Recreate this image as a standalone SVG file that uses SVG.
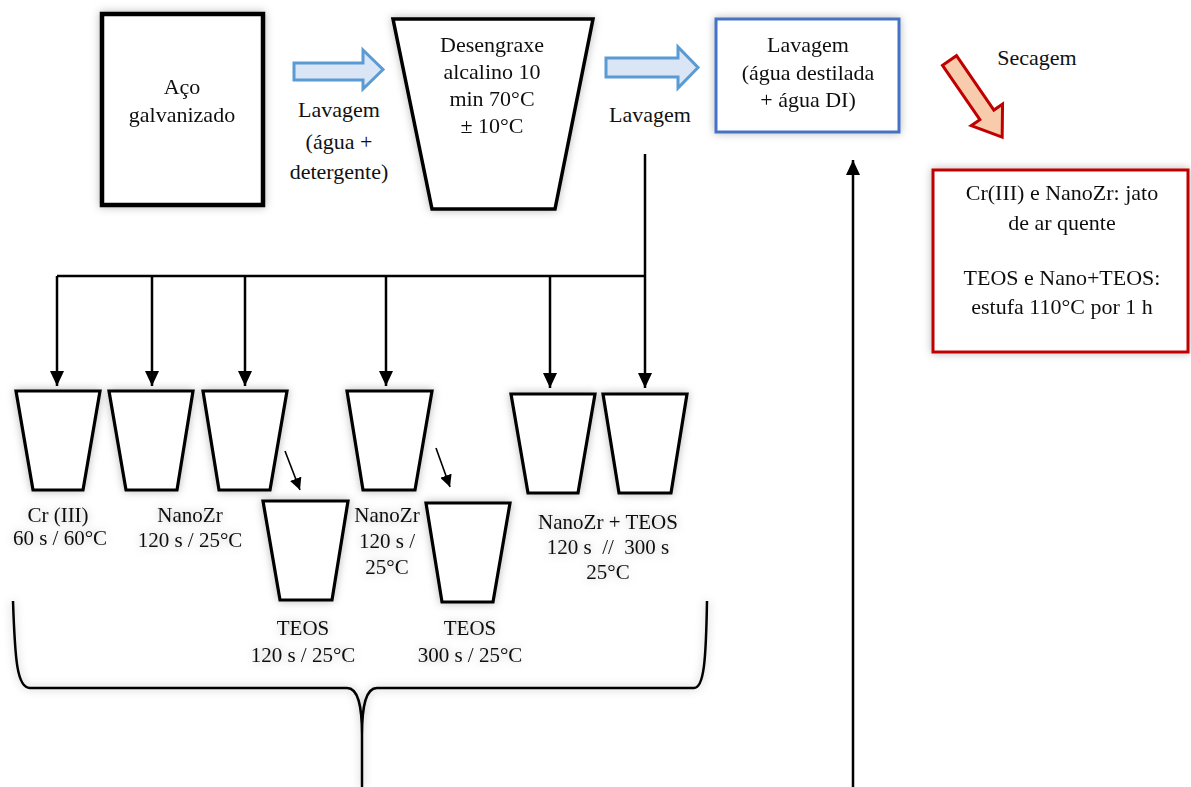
<svg xmlns="http://www.w3.org/2000/svg" width="1191" height="787" viewBox="0 0 1191 787">
<style>
text{font-family:"Liberation Serif","Times New Roman",serif;fill:#111;text-anchor:middle}
.t22{font-size:22px}
.t21{font-size:21px}
.box{fill:#fff;stroke:#000;stroke-width:4.5}
.cup{fill:#fff;stroke:#000;stroke-width:3.2;stroke-linejoin:miter}
.line{fill:none;stroke:#000;stroke-width:2.5}
.thin{fill:none;stroke:#000;stroke-width:1.6}
.barrow{fill:#dae6f5;stroke:#5b9bd5;stroke-width:3}
.rarrow{fill:#f8cbad;stroke:#c00000;stroke-width:3}
.sh{filter:url(#shadow)}
</style>
<defs>
<filter id="shadow" x="-20%" y="-20%" width="140%" height="140%">
<feDropShadow dx="0" dy="0" stdDeviation="4" flood-color="#000" flood-opacity="0.28"/>
</filter>
<marker id="ah" markerUnits="userSpaceOnUse" markerWidth="16" markerHeight="14" refX="15" refY="7" orient="auto">
<path d="M0,0 L15,7 L0,14 z" fill="#000"/>
</marker>
<marker id="ahs" markerUnits="userSpaceOnUse" markerWidth="13" markerHeight="12" refX="12" refY="6" orient="auto">
<path d="M0,0 L12,6 L0,12 z" fill="#000"/>
</marker>
</defs>
<rect width="1191" height="787" fill="#fff"/>

<g id="aco" class="sh">
<rect class="box" x="102" y="14" width="161" height="191"/>
<text class="t22" x="182" y="94">Aço</text>
<text class="t22" x="182" y="122">galvanizado</text>
</g>

<g id="arrow-lavagem1">
<polygon class="barrow" points="294,63 363,63 363,50 383,69.5 363,89 363,80 294,80"/>
<text class="t22" x="339" y="117">Lavagem</text>
<text class="t22" x="339" y="149">(água +</text>
<text class="t22" x="339" y="179">detergente)</text>
</g>

<g id="desengraxe" class="sh">
<polygon class="cup" points="393,19 593,19 555,209 432,209" style="stroke-width:3.5"/>
<text class="t22" x="492" y="52">Desengraxe</text>
<text class="t22" x="492" y="79">alcalino 10</text>
<text class="t22" x="492" y="106">min 70°C</text>
<text class="t22" x="492" y="133">± 10°C</text>
</g>

<g id="arrow-lavagem2">
<polygon class="barrow" points="606,58 678,58 678,47 698,67.5 678,88 678,77 606,77"/>
<text class="t22" x="650" y="122">Lavagem</text>
</g>

<g id="lavagem-box" class="sh">
<rect x="716" y="19" width="183" height="113" fill="#fff" stroke="#4472c4" stroke-width="3"/>
<text class="t22" x="808" y="52">Lavagem</text>
<text class="t22" x="808" y="80">(água destilada</text>
<text class="t22" x="808" y="107">+ água DI)</text>
</g>

<g id="secagem">
<g transform="translate(949.5,60.5) rotate(55.5)">
<polygon class="rarrow" points="0,-8.5 66,-8.5 66,-19 93,0 66,19 66,8.5 0,8.5"/>
</g>
<text class="t22" x="1037" y="65">Secagem</text>
</g>

<g id="secagem-box" class="sh">
<rect x="933" y="170" width="255" height="182" fill="#fff" stroke="#c00000" stroke-width="3"/>
<text class="t22" x="1062" y="200">Cr(III) e NanoZr: jato</text>
<text class="t22" x="1062" y="230">de ar quente</text>
<text class="t22" x="1062" y="285">TEOS e Nano+TEOS:</text>
<text class="t22" x="1062" y="314">estufa 110°C por 1 h</text>
</g>

<g id="cup-cr" class="sh">
<polygon class="cup" points="16,391 100,391 83,490 33,490"/>
<text class="t21" x="58" y="522">Cr (III)</text>
<text class="t21" x="60" y="545">60 s / 60°C</text>
</g>
<g id="cup-nanozr1" class="sh">
<polygon class="cup" points="109,391 193,391 177,490 126,490"/>
<text class="t21" x="190" y="522">NanoZr</text>
<text class="t21" x="190" y="547">120 s / 25°C</text>
</g>
<g id="cup-nanozr2" class="sh">
<polygon class="cup" points="203,391 287,391 270,490 219,490"/>
</g>
<g id="cup-teos1" class="sh">
<polygon class="cup" points="263,501 348,501 332,600 280,600"/>
<text class="t21" x="303" y="635">TEOS</text>
<text class="t21" x="303" y="662">120 s / 25°C</text>
</g>
<g id="cup-nanozr3" class="sh">
<polygon class="cup" points="347,391 432,391 415,490 363,490"/>
<text class="t21" x="387" y="522">NanoZr</text>
<text class="t21" x="387" y="548">120 s /</text>
<text class="t21" x="387" y="574">25°C</text>
</g>
<g id="cup-teos2" class="sh">
<polygon class="cup" points="426,503 510,503 493,602 442,602"/>
<text class="t21" x="470" y="635">TEOS</text>
<text class="t21" x="470" y="662">300 s / 25°C</text>
</g>
<g id="cup-nanoteos1" class="sh">
<polygon class="cup" points="511,394 595,394 578,493 528,493"/>
</g>
<g id="cup-nanoteos2" class="sh">
<polygon class="cup" points="603,394 687,394 671,493 619,493"/>
<text class="t21" x="608" y="529">NanoZr + TEOS</text>
<text class="t21" x="608" y="554" xml:space="preserve">120 s  //  300 s</text>
<text class="t21" x="608" y="579">25°C</text>
</g>

<g id="brace" class="sh">
<path class="line" d="M13,601 C15,660 17,688 30,688 L347,688 C358,688 362,705 362,735 L362,787 M362,735 C362,705 366,688 377,688 L694,688 C704,688 706,660 707,601"/>
</g>

<g id="connectors">
<path class="line" d="M645,154 L645,276"/>
<path class="line" d="M57,276 L645,276"/>
<path class="line" d="M57,276 L57,386" marker-end="url(#ah)"/>
<path class="line" d="M152,276 L152,386" marker-end="url(#ah)"/>
<path class="line" d="M245,276 L245,386" marker-end="url(#ah)"/>
<path class="line" d="M386,276 L386,386" marker-end="url(#ah)"/>
<path class="line" d="M550,276 L550,388" marker-end="url(#ah)"/>
<path class="line" d="M645,276 L645,388" marker-end="url(#ah)"/>
<path class="thin" d="M285,451 L300,490" marker-end="url(#ahs)"/>
<path class="thin" d="M436,448 L450,487" marker-end="url(#ahs)"/>
<path class="line" d="M853,787 L853,160" marker-end="url(#ah)"/>
</g>
</svg>
